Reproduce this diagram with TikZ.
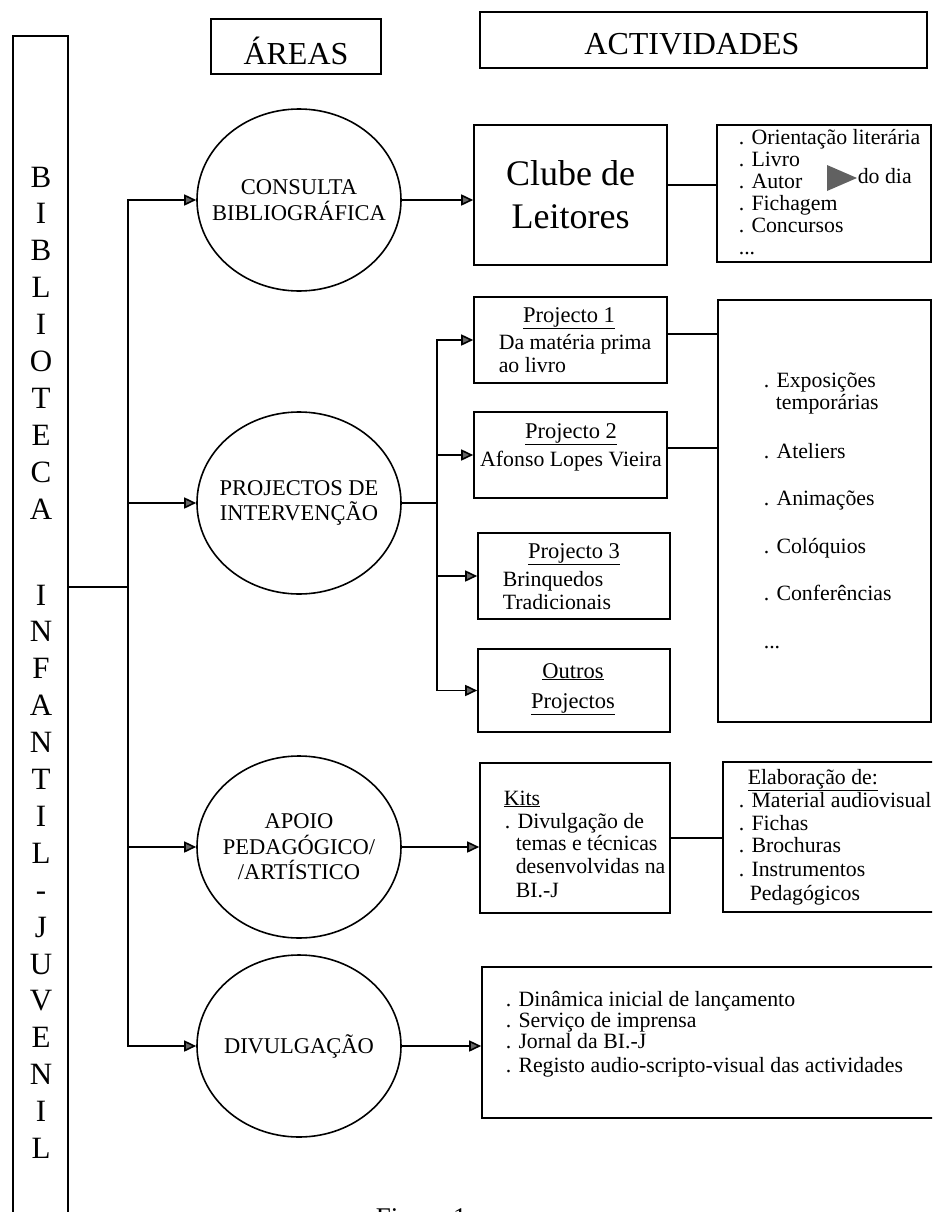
\documentclass[tikz,border=0pt]{standalone}
\usepackage{fontspec}
\setmainfont{Liberation Serif}
\usetikzlibrary{shapes.geometric,arrows.meta}
\begin{document}
\begin{tikzpicture}[x=1pt,y=-1pt,line width=1.6pt,
  box/.style={draw, rectangle, inner sep=0pt},
  area/.style={draw, ellipse, inner sep=0pt, minimum width=204pt, minimum height=182pt},
  ctext/.style={inner sep=0pt, align=center, font=\fontsize{22.5}{25.5}\selectfont},
  txt/.style={inner sep=0pt, anchor=base west, font=\fontsize{21.8}{24}\selectfont},
  hdr/.style={inner sep=0pt, anchor=base, font=\fontsize{22.5}{24}\selectfont},
  title/.style={inner sep=0pt, anchor=base, font=\fontsize{32}{32}\selectfont},
  letter/.style={inner sep=0pt, anchor=base, font=\fontsize{31}{31}\selectfont},
  arr/.style={-{Triangle[length=12pt,width=11pt,fill=black!60]}}]
\useasboundingbox (0,0) rectangle (932,1212);
\clip (0,0) rectangle (932,1212);

% left vertical title box
\node[box, minimum width=55pt, minimum height=1220pt] (lbox) at (40.5,646) {};
\foreach \ch [count=\i from 0] in {B,I,B,L,I,O,T,E,C,A}
  \node[letter] (la\i) at (41,{187+36.9*\i}) {\ch};
\foreach \ch [count=\i from 0] in {I,N,F,A,N,T,I,L,-,J,U,V,E,N,I,L}
  \node[letter] (lb\i) at (41,{605+36.9*\i}) {\ch};

% column titles
\node[box, minimum width=170pt, minimum height=55pt] (areas) at (296,46.5) {};
\node[title] (areast) at (296,65) {ÁREAS};
\node[box, minimum width=447pt, minimum height=56pt] (activ) at (703.5,40) {};
\node[title] (activt) at (692,55) {ACTIVIDADES};

% areas (ellipses)
\node[area] (c1) at (299,200) {};
\node[ctext] (c1t) at (c1.center) {CONSULTA\\BIBLIOGRÁFICA};
\node[area] (c2) at (299,503) {};
\node[ctext] (c2t) at (c2.center) {PROJECTOS DE\\INTERVENÇÃO};
\node[area] (c3) at (299,847) {};
\node[ctext] (c3t) at (c3.center) {APOIO\\PEDAGÓGICO/\\/ARTÍSTICO};
\node[area] (c4) at (299,1046) {};
\node[ctext] (c4t) at (c4.center) {DIVULGAÇÃO};

% Clube de Leitores
\node[box, minimum width=193pt, minimum height=140pt] (clube) at (570.5,195) {};
\node[inner sep=0pt, align=center, font=\fontsize{36}{43}\selectfont] (clubet) at (clube.center) {Clube de\\Leitores};
\node[box, minimum width=214pt, minimum height=137pt] (orient) at (824,193.5) {};
\node[txt] (o1) at (738,144) {. Orientação literária};
\node[txt] (o2) at (738,166) {. Livro};
\node[txt] (o3) at (738,188) {. Autor};
\node[txt] (o4) at (738,210) {. Fichagem};
\node[txt] (o5) at (738,232) {. Concursos};
\node[txt] (o6) at (738,254) {...};
\fill[black!62] (827,165) -- (857,178) -- (827,191) -- cycle;
\node[txt] (o7) at (857,183) {do dia};

% projects
\node[box, minimum width=193pt, minimum height=86pt] (p1) at (570.5,340) {};
\node[hdr] (p1h) at (569,322) {\underline{Projecto 1}};
\node[txt] (p1a) at (498,349) {Da matéria prima};
\node[txt] (p1b) at (498,372) {ao livro};
\node[box, minimum width=193pt, minimum height=86pt] (p2) at (570.5,455) {};
\node[hdr] (p2h) at (571,438) {\underline{Projecto 2}};
\node[hdr, font=\fontsize{21.8}{24}\selectfont] (p2a) at (571,466) {Afonso Lopes Vieira};
\node[box, minimum width=192pt, minimum height=86pt] (p3) at (574,576) {};
\node[hdr] (p3h) at (574,558) {\underline{Projecto 3}};
\node[txt] (p3a) at (502,586) {Brinquedos};
\node[txt] (p3b) at (502,609) {Tradicionais};
\node[box, minimum width=192pt, minimum height=83pt] (p4) at (574,690.5) {};
\node[hdr] (p4h) at (573,678) {\underline{Outros}};
\node[hdr] (p4a) at (573,708) {\underline{Projectos}};

\node[box, minimum width=213pt, minimum height=422pt] (big) at (824.5,511) {};
\node[txt] (b1) at (763,387) {. Exposições};
\node[txt] (b2) at (775,409) {temporárias};
\node[txt] (b3) at (763,458) {. Ateliers};
\node[txt] (b4) at (763,505) {. Animações};
\node[txt] (b5) at (763,553) {. Colóquios};
\node[txt] (b6) at (763,600) {. Conferências};
\node[txt] (b7) at (763,648) {...};

% kits
\node[box, minimum width=190pt, minimum height=150pt] (kits) at (575,838) {};
\node[txt] (k1) at (503,805) {\underline{Kits}};
\node[txt] (k2) at (504,828) {. Divulgação de};
\node[txt] (k3) at (515,850) {temas e técnicas};
\node[txt] (k4) at (515,873) {desenvolvidas na};
\node[txt] (k5) at (515,897) {BI.-J};
\node[box, minimum width=217pt, minimum height=150pt] (elab) at (831.5,837) {};
\node[txt] (e1) at (747,784) {\underline{Elaboração de:}};
\node[txt] (e2) at (738,807) {. Material audiovisual};
\node[txt] (e3) at (738,830) {. Fichas};
\node[txt] (e4) at (738,852) {. Brochuras};
\node[txt] (e5) at (738,876) {. Instrumentos};
\node[txt] (e6) at (749,900) {Pedagógicos};

% divulgacao
\node[box, minimum width=458pt, minimum height=151pt] (divb) at (711,1042.5) {};
\node[txt] (d1) at (505,1006) {. Dinâmica inicial de lançamento};
\node[txt] (d2) at (505,1027) {. Serviço de imprensa};
\node[txt] (d3) at (505,1048) {. Jornal da BI.-J};
\node[txt] (d4) at (505,1072) {. Registo audio-scripto-visual das actividades};

\node[txt, font=\fontsize{27}{27}\selectfont] (fig) at (375,1226) {Figura 1};

% connectors
\coordinate (tj) at (128,587);
\coordinate (yclube) at (0,185);
\coordinate (yp1) at (0,334);
\coordinate (yp2) at (0,448);
\draw (lbox.east |- tj) -- (tj);
\draw[arr] (tj) |- (c1.west);
\draw[arr] (tj) |- (c2.west);
\draw[arr] (tj) |- (c3.west);
\draw[arr] (tj) |- (c4.west);
\draw[arr] (c1.east) -- (c1.east -| clube.west);
\draw (clube.east |- yclube) -- (orient.west |- yclube);
\coordinate (pj) at (437,503);
\draw (c2.east) -- (pj);
\draw[arr] (pj) |- (p1.west);
\draw[arr] (pj) |- (p2.west);
\draw[arr] (pj) |- (p3.west);
\draw[arr] (pj) |- (p4.west);
\draw (p1.east |- yp1) -- (big.west |- yp1);
\draw (p2.east |- yp2) -- (big.west |- yp2);
\draw[arr] (c3.east) -- (c3.east -| kits.west);
\draw (kits.east) -- (kits.east -| elab.west);
\draw[arr] (c4.east) -- (c4.east -| divb.west);
\end{tikzpicture}
\end{document}
